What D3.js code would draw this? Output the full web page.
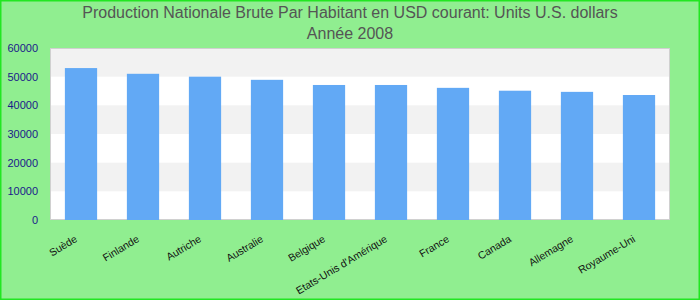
<!DOCTYPE html>
<html>
<head>
<meta charset="utf-8">
<script src="https://cdn.jsdelivr.net/npm/d3@7"></script>
<style>
  body { margin: 0; }
  svg { display: block; font-family: "Liberation Sans", Arial, sans-serif; }
</style>
</head>
<body>
<div id="chart"></div>
<script>
var countries = ['Suède', 'Finlande', 'Autriche', 'Australie', 'Belgique',
    "Etats-Unis d'Amérique", 'France', 'Canada', 'Allemagne', 'Royaume-Uni'];
var values = [53000, 51000, 50000, 48900, 47100, 47100, 46100, 45100, 44700, 43600];
var yTicks = [0, 10000, 20000, 30000, 40000, 50000, 60000];
var title = ['Production Nationale Brute Par Habitant en USD courant: Units U.S. dollars',
    'Année 2008'];

var W = 700, H = 300;
var margin = { top: 48, left: 50, right: 30, bottom: 80 };
var width = W - margin.left - margin.right;
var height = H - margin.top - margin.bottom;

var svg = d3.select('#chart').append('svg')
    .attr('width', W)
    .attr('height', H);

svg.append('rect')
    .attr('x', 0.75).attr('y', 0.75)
    .attr('width', W - 1.5).attr('height', H - 1.5)
    .attr('fill', '#90ee90')
    .attr('stroke', '#22e622')
    .attr('stroke-width', 1.5);

svg.selectAll('.title').data(title).enter()
    .append('text')
    .attr('class', 'title')
    .attr('x', W / 2)
    .attr('y', function(d, i) { return 18 + i * 21; })
    .attr('text-anchor', 'middle')
    .attr('font-size', 16)
    .attr('fill', '#555555')
    .text(function(d) { return d; });

var sx = d3.scaleBand()
    .domain(countries)
    .range([0, width])
    .paddingInner(0.48)
    .paddingOuter(0.24);
var sy = d3.scaleLinear()
    .domain([0, 60000])
    .range([height, 0]);

var g = svg.append('g')
    .attr('transform', 'translate(' + margin.left + ', ' + margin.top + ')');

g.append('rect')
    .attr('width', width)
    .attr('height', height)
    .attr('fill', '#ffffff');

// alternating bands
var bands = yTicks.slice(0, -1).filter(function(d, i) { return i % 2 == 1; });
g.selectAll('.band').data(bands).enter()
    .append('rect')
    .attr('class', 'band')
    .attr('x', 0)
    .attr('width', width)
    .attr('y', function(d) { return sy(d + 10000); })
    .attr('height', function(d) { return sy(d) - sy(d + 10000); })
    .attr('fill', '#f2f2f2');

g.append('rect')
    .attr('x', 0.5).attr('y', 0.5)
    .attr('width', width - 1)
    .attr('height', height - 1)
    .attr('fill', 'none')
    .attr('stroke', '#d0d0d0');

g.selectAll('.bar').data(values).enter()
    .append('rect')
    .attr('class', 'bar')
    .attr('x', function(d, i) { return sx(countries[i]); })
    .attr('y', function(d) { return sy(d); })
    .attr('width', sx.bandwidth())
    .attr('height', function(d) { return height - sy(d); })
    .attr('fill', '#62a9f5');

var ay = d3.axisLeft(sy)
    .tickValues(yTicks)
    .tickSize(0)
    .tickPadding(12)
    .tickFormat(function(d) { return String(d); });
var gy = g.append('g').call(ay);
gy.select('.domain').remove();
gy.selectAll('text')
    .attr('font-size', 11)
    .attr('font-family', '"Liberation Sans", Arial, sans-serif')
    .attr('fill', '#1a1a8a');

var ax = d3.axisBottom(sx).tickSize(0);
var gx = g.append('g')
    .attr('transform', 'translate(0, ' + height + ')')
    .call(ax);
gx.select('.domain').remove();
gx.selectAll('text')
    .attr('font-size', 10.5)
    .attr('font-family', '"Liberation Sans", Arial, sans-serif')
    .attr('fill', '#111')
    .attr('text-anchor', 'end')
    .attr('dy', null)
    .attr('y', 0)
    .attr('transform', 'translate(-3, 21) rotate(-31)');
</script>
</body>
</html>
